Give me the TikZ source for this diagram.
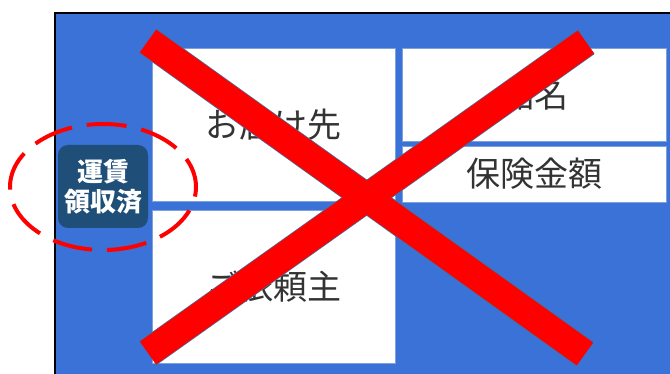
\documentclass[tikz,border=0pt]{standalone}
\usepackage{fontspec}
\newfontfamily\jpfont{Noto Sans CJK JP}
\definecolor{bgblue}{HTML}{3A72D8}
\definecolor{stampblue}{HTML}{1F4E79}
\definecolor{edgeblue}{HTML}{41719C}
\definecolor{boxedge}{HTML}{7FA0DC}
\tikzset{
  field/.style={fill=white, draw=boxedge, line width=0.6pt, inner sep=0pt, outer sep=0pt,
    font=\jpfont\fontsize{34}{40}\selectfont, text=black!80},
  stampbox/.style={fill=stampblue, rounded corners=10pt, inner sep=0pt, outer sep=0pt,
    minimum width=90pt, minimum height=83pt, text=white, align=center,
    font=\jpfont\bfseries\fontsize{26}{30}\selectfont},
  barline/.style={line width=29.5pt, draw=edgeblue},
  barfill/.style={line width=28pt, draw=red}
}
\begin{document}
\begin{tikzpicture}[x=1pt,y=-1pt]
\useasboundingbox (0,0) rectangle (670,374);
\fill[bgblue] (55,13) rectangle (672,376);
\draw[black, line width=2pt] (55,376) -- (55,13) -- (672,13);
\node[field, minimum width=243pt, minimum height=153pt] (dest) at (273.5,124.5) {お届け先};
\node[field, minimum width=243pt, minimum height=153pt] (client) at (273.5,286.5) {ご依頼主};
\node[field, minimum width=264pt, minimum height=93pt] (item) at (534,94.5) {品名};
\node[field, minimum width=264pt, minimum height=56pt] (ins) at (534,174) {保険金額};
\node[stampbox] (stamp) at (103,186.5) {運賃\\領収済};
\draw[draw=red, line width=4pt, dash pattern=on 40pt off 15pt, dash phase=10pt] (103,187) ellipse [x radius=93pt, y radius=63pt];
\coordinate (a1) at (148,41);
\coordinate (a2) at (585,354);
\coordinate (b1) at (586,42);
\coordinate (b2) at (148,353);
\draw[barline] (a1) -- (a2);
\draw[barline] (b1) -- (b2);
\draw[barfill] (a1) -- (a2);
\draw[barfill] (b1) -- (b2);
\end{tikzpicture}
\end{document}
